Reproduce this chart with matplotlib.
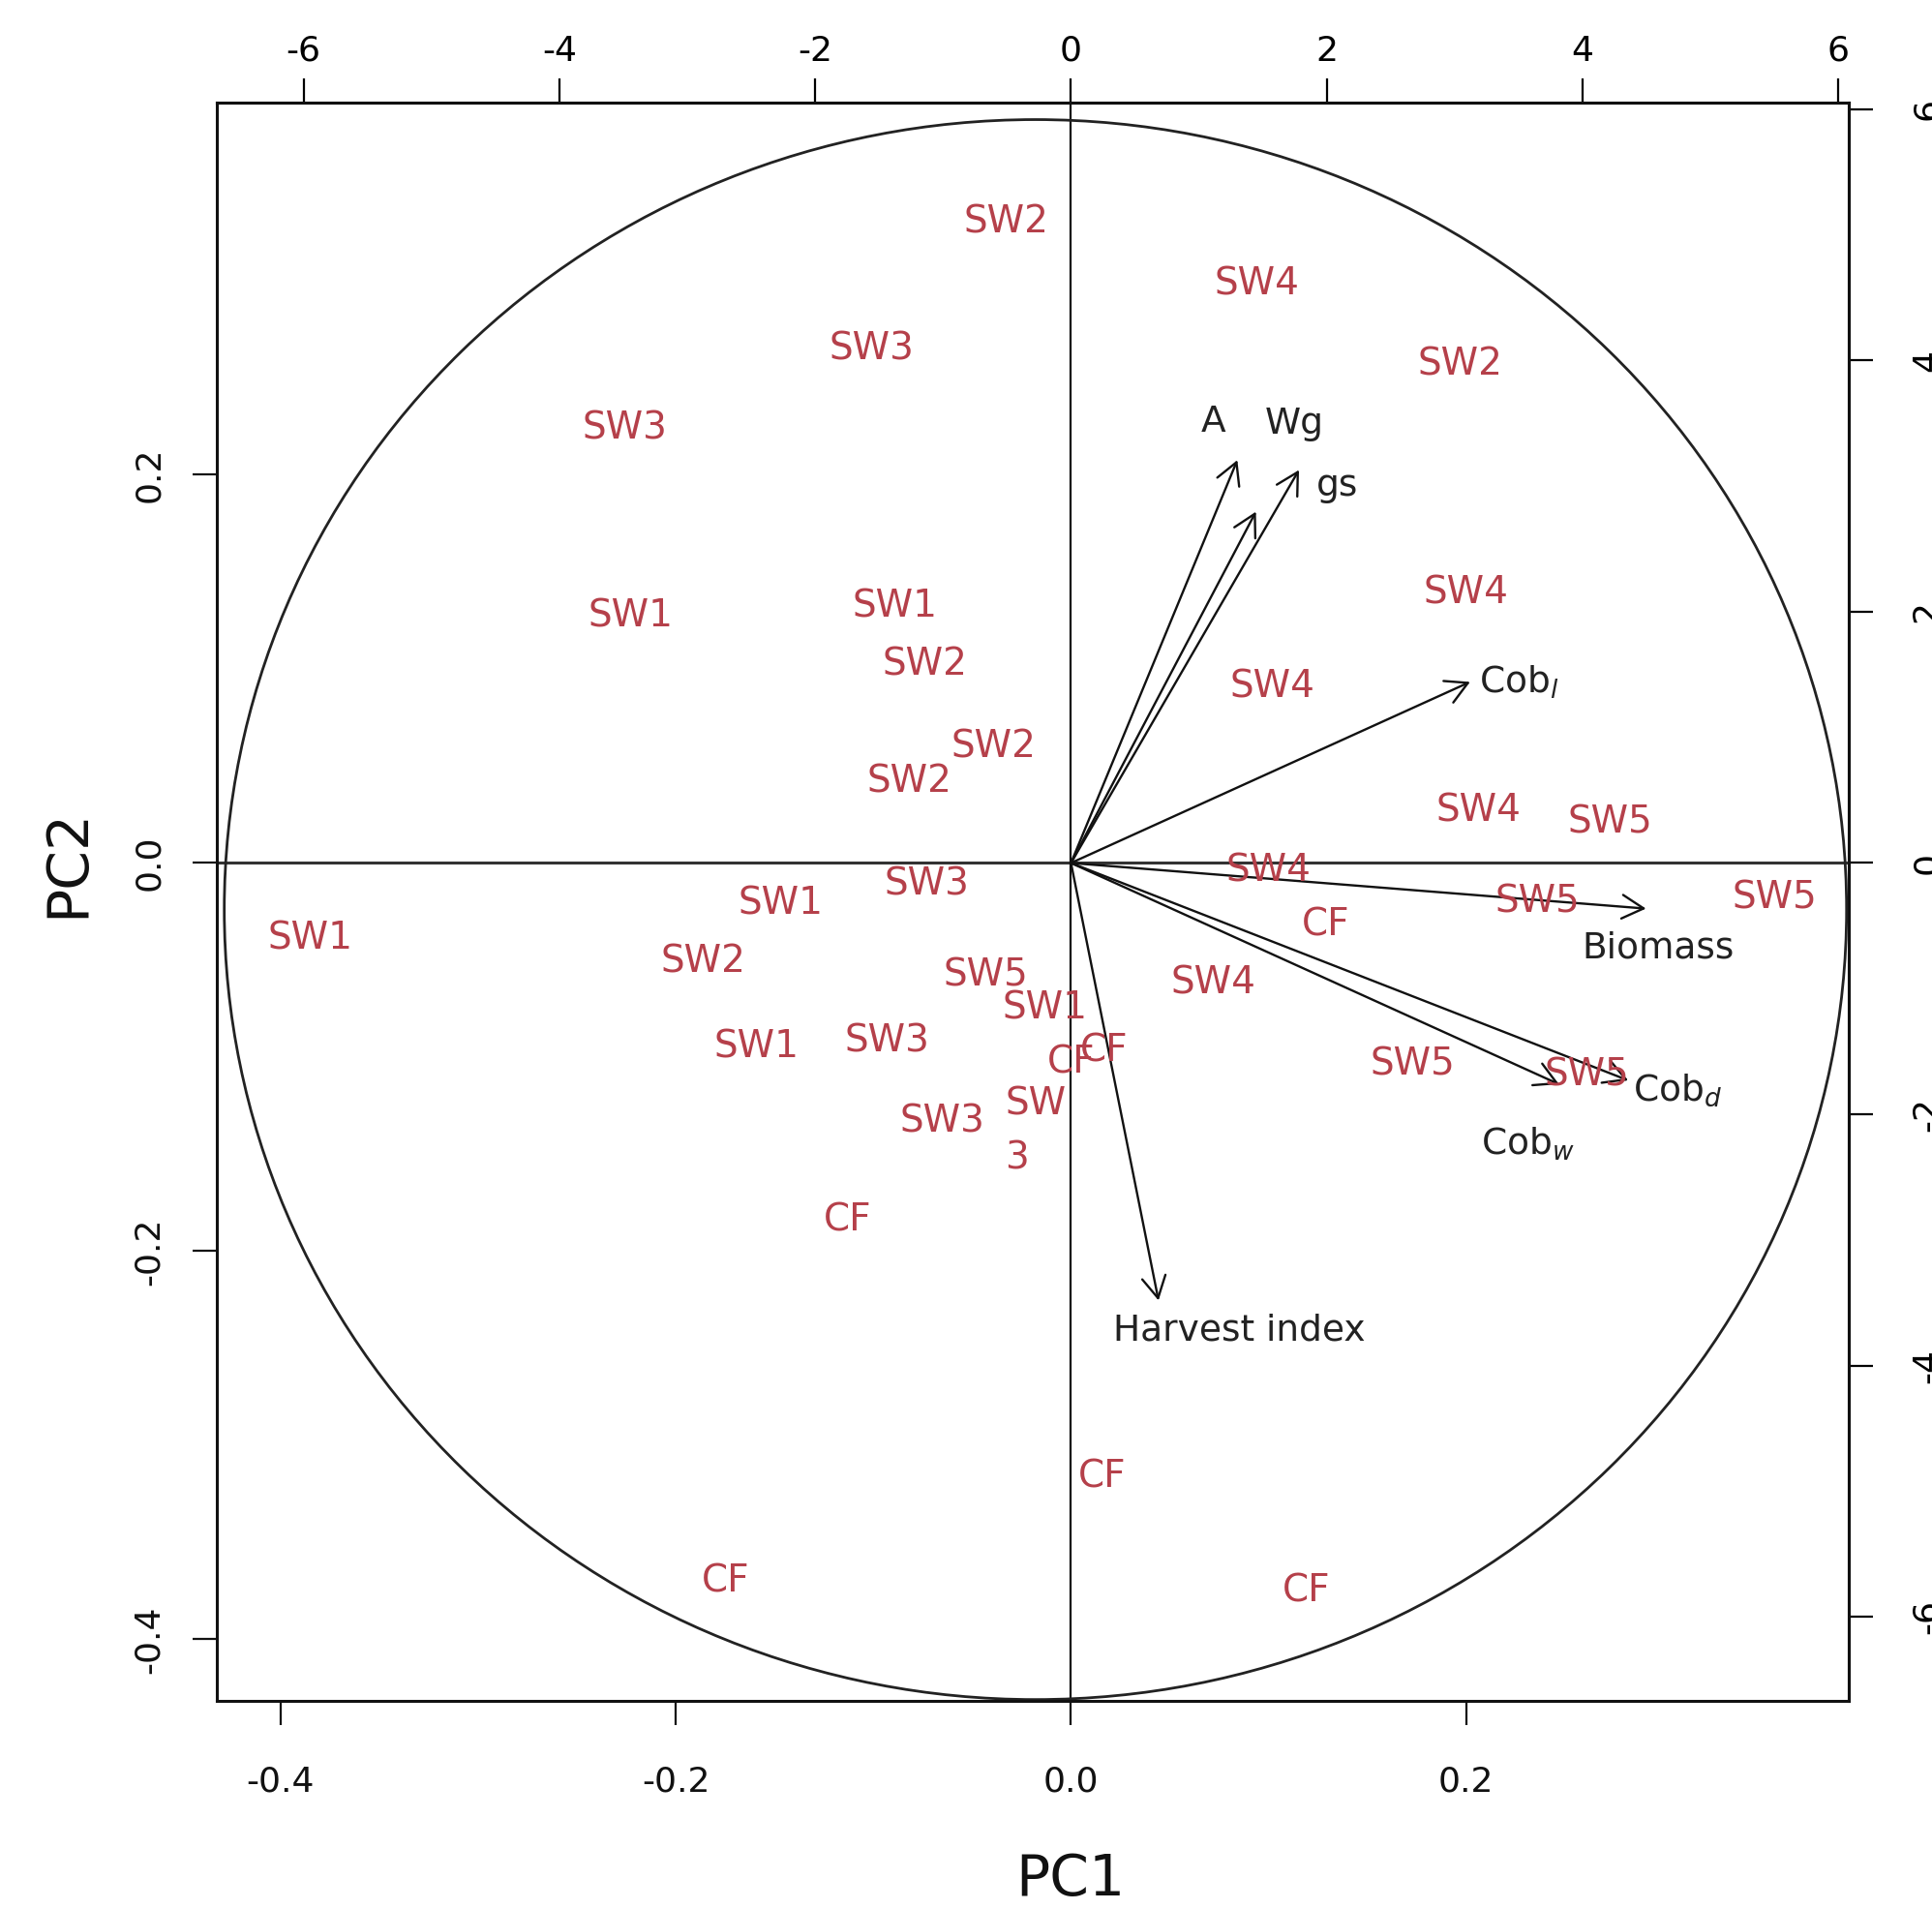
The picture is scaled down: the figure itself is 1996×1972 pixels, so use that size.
import matplotlib
matplotlib.use("Agg")
import matplotlib.pyplot as plt
from matplotlib.patches import Ellipse

plt.rcParams['font.family'] = ['DejaVu Sans']
plt.rcParams['axes.unicode_minus'] = False

# sample scores (labels in red)
sample_names = ['SW2', 'SW4', 'SW3', 'SW2', 'SW3', 'SW1', 'SW1', 'SW2', 'SW4',
                'SW4', 'SW2', 'SW2', 'SW4', 'SW5', 'SW4', 'SW5', 'SW5', 'SW1',
                'SW1', 'SW3', 'SW2', 'CF', 'SW4', 'SW5', 'SW1', 'SW1', 'SW3',
                'CF', 'CF', 'SW5', 'SW5', 'SW3', 'SW\n3', 'CF', 'CF', 'CF', 'CF']
pc1 = [-0.033, 0.094, -0.101, 0.197, -0.226, -0.223, -0.089, -0.074, 0.200,
       0.102, -0.039, -0.082, 0.206, 0.273, 0.100, 0.236, 0.356, -0.385,
       -0.147, -0.073, -0.186, 0.129, 0.072, -0.043, -0.013, -0.159, -0.093,
       0.000, 0.017, 0.173, 0.261, -0.065, -0.018, -0.113, 0.016, -0.175, 0.119]
pc2 = [0.330, 0.298, 0.265, 0.257, 0.224, 0.127, 0.132, 0.102, 0.139,
       0.091, 0.060, 0.042, 0.027, 0.021, -0.004, -0.020, -0.018, -0.039,
       -0.021, -0.011, -0.051, -0.032, -0.062, -0.058, -0.075, -0.095, -0.092,
       -0.103, -0.097, -0.104, -0.109, -0.133, -0.138, -0.184, -0.316, -0.370, -0.375]

# variable loadings (arrows)
var_names = ['A', 'Wg', 'gs', 'Cob$_l$', 'Biomass', 'Cob$_d$', 'Cob$_w$', 'Harvest index']
var_pc1 = [0.0842, 0.0936, 0.1154, 0.202, 0.291, 0.282, 0.247, 0.0443]
var_pc2 = [0.2076, 0.181, 0.2025, 0.0933, -0.0235, -0.112, -0.114, -0.2254]
# where each variable label sits
var_lab_x = [0.072, 0.113, 0.124, 0.2065, 0.297, 0.2845, 0.231, 0.085]
var_lab_y = [0.227, 0.226, 0.194, 0.093, -0.044, -0.117, -0.145, -0.241]
var_lab_ha = ['center', 'center', 'left', 'left', 'center', 'left', 'center', 'center']

xticks = [-0.4, -0.2, 0.0, 0.2]
yticks = [-0.4, -0.2, 0.0, 0.2]
sec_ticks = [-6, -4, -2, 0, 2, 4, 6]
scale = 15.45  # loading axis / score axis

red = '#b5404a'
dark = '#222222'

fig = plt.figure(figsize=(19.96, 19.72), dpi=100)
ax = fig.add_axes([0.1122, 0.109, 0.8447, 0.8372])
ax.set_xlim(-0.4323, 0.3936)
ax.set_ylim(-0.4317, 0.3917)

for s in ax.spines.values():
    s.set_linewidth(2.2)
    s.set_color('#111111')

ax.axhline(0, color='#333333', lw=2.2, zorder=1)
ax.axvline(0, color='#111111', lw=1.6, zorder=1)

circle = Ellipse((-0.018, -0.024), 2 * 0.4105, 2 * 0.407, fill=False,
                 edgecolor='#222222', lw=2.0, zorder=1)
ax.add_patch(circle)

for name, x, y in zip(sample_names, pc1, pc2):
    ax.text(x, y, name, color=red, fontsize=28, ha='center', va='center',
            multialignment='left', linespacing=1.6, zorder=3)

for x, y in zip(var_pc1, var_pc2):
    ax.annotate('', xy=(x, y), xytext=(0, 0),
                arrowprops=dict(arrowstyle='->,head_length=0.4,head_width=0.22',
                                lw=1.7, color='#111111', mutation_scale=40,
                                shrinkA=0, shrinkB=0), zorder=2)

for name, x, y, ha in zip(var_names, var_lab_x, var_lab_y, var_lab_ha):
    ax.text(x, y, name, color=dark, fontsize=27, ha=ha, va='center', zorder=3)

ax.set_xticks(xticks)
ax.set_xticklabels([f'{v:.1f}' for v in xticks])
ax.set_yticks(yticks)
ax.set_yticklabels([f'{v:.1f}' for v in yticks], rotation=90, va='center')
ax.tick_params(axis='x', direction='out', length=18, width=1.6, labelsize=26, pad=30,
               colors='#111111')
ax.tick_params(axis='y', direction='out', length=18, width=1.6, labelsize=26, pad=20,
               colors='#111111')

sx = ax.secondary_xaxis('top', functions=(lambda v: v * scale, lambda v: v / scale))
sx.set_xticks(sec_ticks)
sx.set_xticklabels([str(v) for v in sec_ticks])
sx.tick_params(direction='out', length=18, width=1.6, labelsize=26, pad=8)
sx.spines['top'].set_linewidth(2.2)

sy = ax.secondary_yaxis('right', functions=(lambda v: v * scale, lambda v: v / scale))
sy.set_yticks(sec_ticks)
sy.set_yticklabels([str(v) for v in sec_ticks], rotation=90, va='center')
sy.tick_params(direction='out', length=18, width=1.6, labelsize=26, pad=28)
sy.spines['right'].set_linewidth(2.2)

fig.text(0.554, 0.0155, 'PC1', fontsize=42, ha='center', va='center', color='#111111')
fig.text(0.035, 0.548, 'PC2', fontsize=42, ha='center', va='center', rotation=90,
         color='#111111')

fig.savefig('out.png', dpi=100)
